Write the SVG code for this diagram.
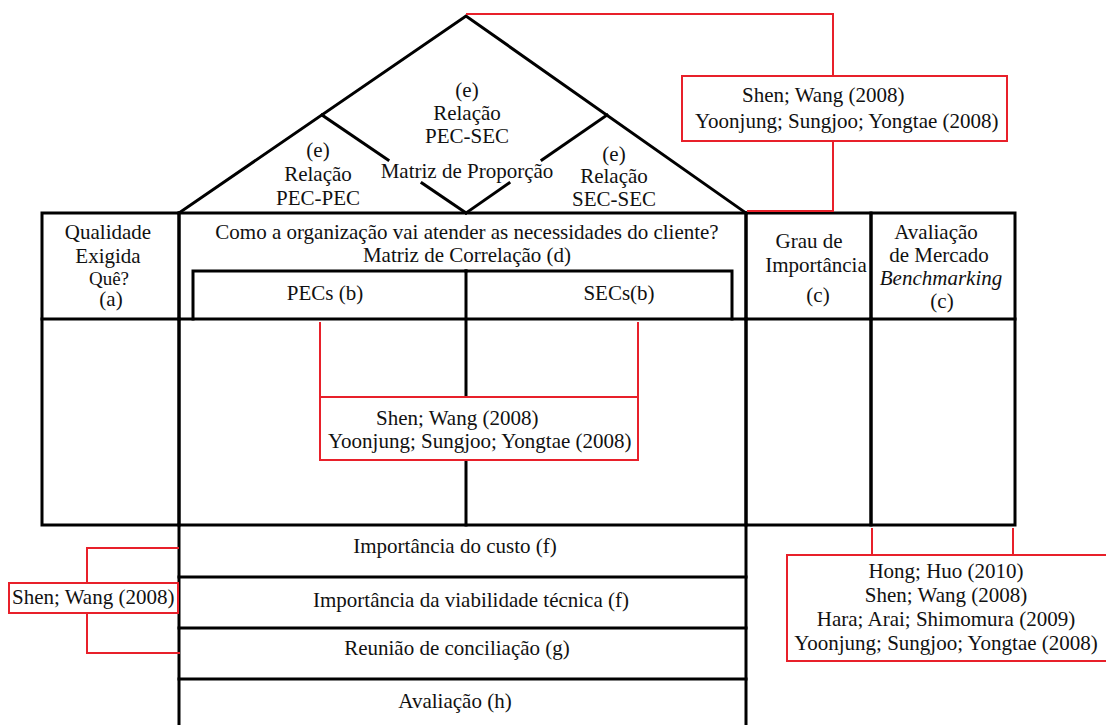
<svg xmlns="http://www.w3.org/2000/svg" width="1106" height="725" viewBox="0 0 1106 725" font-family="Liberation Serif, serif">
  <style>
    .frame { fill: none; stroke: #000; stroke-width: 3; stroke-linecap: square; }
    .ref { fill: none; stroke: #e8202a; stroke-width: 2; }
    .refbox { fill: #fff; stroke: #e8202a; stroke-width: 2; }
    text { font-family: 'Liberation Serif', serif; font-size: 21px; fill: #111; }
    .c { text-anchor: middle; }
    .small { font-size: 19px; }
    .it { font-style: italic; }
  </style>
  <rect width="1106" height="725" fill="#fff"/>

  <!-- roof: proportion matrix -->
  <g id="roof">
    <polyline class="frame" points="179,213 466,16 746,213"/>
    <line class="frame" x1="322" y1="115" x2="388" y2="160"/>
    <line class="frame" x1="422" y1="183" x2="466" y2="213"/>
    <line class="frame" x1="607" y1="115" x2="542" y2="160"/>
    <line class="frame" x1="509" y1="183" x2="466" y2="213"/>
    <text class="c" x="467" y="97">(e)</text>
    <text class="c" x="467" y="120">Relação</text>
    <text class="c" x="467" y="143">PEC-SEC</text>
    <text class="c" x="318" y="157">(e)</text>
    <text class="c" x="318" y="181">Relação</text>
    <text class="c" x="318" y="205">PEC-PEC</text>
    <text class="c" x="467" y="178">Matriz de Proporção</text>
    <text class="c" x="614" y="161">(e)</text>
    <text class="c" x="614" y="183">Relação</text>
    <text class="c" x="614" y="206">SEC-SEC</text>
  </g>

  <!-- left column: required quality -->
  <g id="qualidade">
    <rect class="frame" x="42" y="213" width="137" height="312"/>
    <line class="frame" x1="42" y1="319" x2="179" y2="319"/>
    <text class="c" x="108" y="239">Qualidade</text>
    <text class="c" x="108" y="263">Exigida</text>
    <text class="c small" x="109" y="285">Quê?</text>
    <text class="c" x="111" y="306">(a)</text>
  </g>

  <!-- central column: correlation matrix -->
  <g id="correlacao">
    <line class="frame" x1="179" y1="213" x2="746" y2="213"/>
    <line class="frame" x1="179" y1="213" x2="179" y2="725"/>
    <line class="frame" x1="746" y1="213" x2="746" y2="725"/>
    <line class="frame" x1="179" y1="319" x2="746" y2="319"/>
    <line class="frame" x1="179" y1="525" x2="746" y2="525"/>
    <text class="c" x="467" y="239">Como a organização vai atender as necessidades do cliente?</text>
    <text class="c" x="467" y="262">Matriz de Correlação (d)</text>
  </g>

  <g id="pecs">
    <polyline class="frame" points="193,319 193,271 466,271"/>
    <line class="frame" x1="466" y1="271" x2="466" y2="525"/>
    <text class="c" x="325" y="300">PECs (b)</text>
  </g>

  <g id="secs">
    <polyline class="frame" points="466,271 732,271 732,319"/>
    <text class="c" x="619" y="300">SECs(b)</text>
  </g>

  <!-- importance column -->
  <g id="grau">
    <rect class="frame" x="746" y="213" width="125" height="312"/>
    <line class="frame" x1="746" y1="319" x2="871" y2="319"/>
    <text class="c" x="809" y="248">Grau de</text>
    <text class="c" x="816" y="272">Importância</text>
    <text class="c" x="818" y="302">(c)</text>
  </g>

  <!-- market evaluation column -->
  <g id="mercado">
    <rect class="frame" x="871" y="213" width="144" height="312"/>
    <line class="frame" x1="871" y1="319" x2="1015" y2="319"/>
    <text class="c" x="936" y="239">Avaliação</text>
    <text class="c" x="939" y="262">de Mercado</text>
    <text class="c it" x="941" y="285">Benchmarking</text>
    <text class="c" x="942" y="308">(c)</text>
  </g>

  <!-- lower rows -->
  <g id="custo">
    <line class="frame" x1="179" y1="577" x2="746" y2="577"/>
    <text class="c" x="455" y="553">Importância do custo (f)</text>
  </g>
  <g id="viabilidade">
    <line class="frame" x1="179" y1="628" x2="746" y2="628"/>
    <text class="c" x="471" y="607">Importância da viabilidade técnica (f)</text>
  </g>
  <g id="conciliacao">
    <line class="frame" x1="179" y1="679" x2="746" y2="679"/>
    <text class="c" x="457" y="655">Reunião de conciliação (g)</text>
  </g>
  <g id="avaliacao">
    <text class="c" x="455" y="708">Avaliação (h)</text>
  </g>

  <!-- reference connectors -->
  <g id="connectors">
    <polyline class="ref" points="466,14 833,14 833,76"/>
    <polyline class="ref" points="833,141 833,211 747,211"/>
    <line class="ref" x1="320" y1="322" x2="320" y2="397"/>
    <line class="ref" x1="638" y1="322" x2="638" y2="397"/>
    <line class="ref" x1="872" y1="528" x2="872" y2="555"/>
    <line class="ref" x1="1013" y1="528" x2="1013" y2="555"/>
    <polyline class="ref" points="179,548 87,548 87,583"/>
    <polyline class="ref" points="87,613 87,653 180,653"/>
  </g>

  <!-- reference notes -->
  <g id="ref-roof">
    <rect class="refbox" x="682" y="76" width="325" height="65"/>
    <text x="742" y="102">Shen; Wang (2008)</text>
    <text x="695" y="128">Yoonjung; Sungjoo; Yongtae (2008)</text>
  </g>
  <g id="ref-matriz">
    <rect class="refbox" x="320" y="397" width="318" height="63"/>
    <text x="376" y="425">Shen; Wang (2008)</text>
    <text x="328" y="448">Yoonjung; Sungjoo; Yongtae (2008)</text>
  </g>
  <g id="ref-mercado">
    <rect class="refbox" x="787" y="555" width="322" height="106"/>
    <text class="c" x="946" y="578">Hong; Huo (2010)</text>
    <text class="c" x="946" y="602">Shen; Wang (2008)</text>
    <text class="c" x="946" y="626">Hara; Arai; Shimomura (2009)</text>
    <text class="c" x="946" y="650">Yoonjung; Sungjoo; Yongtae (2008)</text>
  </g>
  <g id="ref-custo">
    <rect class="refbox" x="9" y="583" width="169" height="30"/>
    <text x="12" y="604">Shen; Wang (2008)</text>
  </g>
</svg>
